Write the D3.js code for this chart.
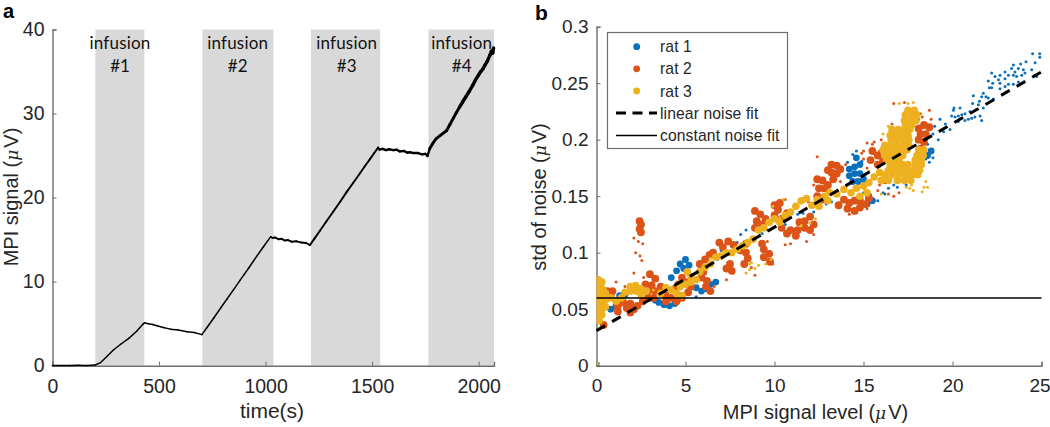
<!DOCTYPE html>
<html><head><meta charset="utf-8">
<script src="https://cdnjs.cloudflare.com/ajax/libs/d3/7.8.5/d3.min.js"></script>
<style>html,body{margin:0;padding:0;background:#fff}svg{display:block}text{font-family:"Liberation Sans",Arial,sans-serif;fill:#262626}</style>
</head><body><svg id="c" width="1050" height="427"></svg>
<script>
const xTicksA=[0,500,1000,1500,2000], yTicksA=[0,10,20,30,40];
const xTicksB=[0,5,10,15,20,25], yTicksB=[0,0.05,0.1,0.15,0.2,0.25,0.3];
const infusions=[[201,431,"#1"],[703,1037,"#2"],[1213,1538,"#3"],[1764,2072,"#4"]];
const signalTime=[0,40,80,120,160,201,225,255,287,320,358,395,425,432,450,470,490,520,553,590,631,665,701,725,756,790,818,850,880,920,958,990,1024,1032,1045,1060,1075,1090,1105,1122,1145,1169,1190,1208,1230,1255,1285,1318,1350,1380,1410,1443,1465,1489,1510,1528,1535,1550,1565,1580,1599,1615,1630,1650,1665,1677,1695,1715,1735,1750,1760,1770,1786,1800,1820,1849,1865,1880,1895,1911,1925,1940,1955,1973,1985,2000,2010,2020,2030,2040,2052,2060,2066,2070];
const signalValue=[0.02,0.03,0.01,0.04,0.02,0.08,0.36,1.1,1.9,2.55,3.25,4.1,4.95,5.1,5.0,4.9,4.75,4.55,4.35,4.25,4.05,3.95,3.7,4.55,5.65,6.9,7.9,9.05,10.15,11.6,13.0,14.15,15.35,15.2,15.25,15.05,15.1,14.9,14.95,14.75,14.8,14.65,14.6,14.35,15.15,16.05,17.15,18.35,19.5,20.65,21.7,22.9,23.7,24.55,25.3,25.95,25.7,25.8,25.65,25.75,25.65,25.7,25.5,25.55,25.35,25.4,25.3,25.3,25.15,25.2,24.95,25.8,26.5,27.0,27.4,27.95,28.7,29.4,30.1,30.8,31.4,32.0,32.6,33.4,34.0,34.6,35.0,35.3,35.8,36.2,36.9,37.4,37.2,37.8];
const rat1Core=[[14.2,.168],[14.5,.17],[14.8,.17],[14.2,.174],[14.5,.176],[14.8,.178],[14.6,.184],[14.4,.163],[14.7,.163],[15,.165],[15.2,.143],[15.5,.146],[15.3,.15],[.8,.05],[1.1,.053],[1.3,.062],[1.6,.063],[3.3,.058],[3.5,.056],[3.8,.054],[4.1,.053],[4.4,.055],[5,.094],[4.7,.09],[5.2,.089],[4.5,.084],[4.2,.078],[4.9,.086],[5.6,.069],[5.9,.066],[6.2,.068],[6.4,.072],[6.7,.074],[18.6,.186],[18.8,.19]];
const rat1Dots=[[24.5,.276],[24.9,.276],[24.9,.273],[24.64,.268],[24.13,.269],[23.83,.267],[23.42,.266],[23.32,.263],[24.45,.262],[23.98,.262],[23.7,.263],[23.51,.26],[22.95,.26],[22.67,.257],[22.39,.256],[22.2,.259],[22.01,.252],[22.26,.25],[22.07,.246],[22.2,.246],[22.58,.253],[22.67,.25],[22.95,.254],[23.14,.257],[23.42,.257],[23.6,.256],[23.89,.257],[24.07,.259],[24.64,.257],[24.73,.256],[22.67,.245],[22.95,.247],[23.14,.249],[23.42,.249],[23.7,.251],[21.73,.241],[21.64,.238],[21.88,.238],[22.01,.237],[22.3,.236],[21.17,.239],[21.51,.234],[21.45,.231],[21.13,.232],[21.73,.228],[21.55,.221],[21.64,.217],[20.08,.228],[20.05,.226],[20.42,.228],[20.7,.223],[20.52,.222],[20.33,.221],[20.14,.22],[19.95,.221],[20.98,.225],[21.08,.219],[20.89,.218],[21.26,.22],[20.7,.217],[20.33,.216],[19.86,.209],[19.3,.218],[19.6,.214],[19,.212],[18.9,.205],[18.6,.196],[18.9,.184],[18.5,.183],[18.3,.178],[18.7,.18],[19.2,.2],[19.5,.207],[17.8,.175],[17.4,.16],[16.9,.158],[16.2,.152],[15.8,.146],[14.4,.187],[14.1,.18],[14.9,.181],[14.6,.19],[.1,.002],[5.6,.061],[11.3,.134],[9.3,.117],[7,.102],[13.8,.146],[15,.153],[16.5,.165],[16.1,.153],[16.4,.157],[16.7,.16],[17,.163],[17.3,.162],[17.3,.168],[6.8,.094],[7.9,.109],[8.4,.12],[9.2,.124],[10.2,.13],[10.6,.125],[11.1,.12],[11.6,.135],[12.2,.136],[12.9,.143],[13.2,.145],[8.1,.116],[9.6,.12]];
const rat2Core=[[2.42,.128],[2.5,.125],[2.42,.121],[2.5,.118],[.6,.066],[.9,.066],[.8,.062],[.4,.036],[1.2,.053],[1.5,.056],[1.2,.048],[1.7,.051],[1.9,.047],[2.1,.05],[2.3,.053],[1.9,.055],[2.6,.057],[2.9,.06],[3.2,.06],[2.9,.066],[3.1,.071],[2.75,.072],[3.3,.077],[3,.081],[2.6,.067],[3.3,.066],[3.6,.07],[3.9,.057],[4.2,.06],[4.5,.057],[4.8,.06],[3.9,.062],[4.4,.068],[4.6,.072],[4.8,.078],[5,.074],[5.3,.07],[5.15,.065],[5.9,.078],[6.2,.075],[6.15,.07],[6.4,.066],[6,.083],[5.8,.09],[6.1,.094],[6.35,.098],[6.55,.1],[6.9,.109],[7.1,.105],[7.4,.11],[7.7,.107],[7.5,.09],[7.3,.086],[7.6,.084],[8.1,.102],[8.4,.108],[8.4,.1],[8.5,.095],[8.3,.09],[9.4,.103],[9.7,.099],[9.4,.096],[9.75,.092],[9.3,.108],[8.9,.137],[9.2,.134],[9,.128],[9.3,.125],[8.9,.122],[9.5,.13],[10,.142],[10.3,.144],[10.2,.138],[10,.133],[10.4,.13],[10.7,.135],[10.9,.12],[11.2,.115],[10.7,.117],[10.4,.122],[11.3,.12],[11.7,.128],[12,.132],[11.7,.122],[12,.12],[12.2,.125],[11.4,.127],[12.4,.165],[12.7,.164],[12.5,.157],[12.8,.157],[12.4,.15],[12.7,.147],[13,.16],[13.2,.178],[13.5,.177],[13.2,.171],[13.5,.17],[13.3,.165],[13.7,.174],[13,.173],[13.6,.142],[13.9,.147],[14.2,.144],[14.5,.146],[14.1,.139],[14.5,.137],[14.8,.14],[15.1,.143],[15.3,.148],[14.8,.146],[15.5,.19],[15.8,.186],[15.4,.182],[15.8,.178],[16.1,.182],[18.1,.21],[18.4,.213],[18.7,.211],[18.2,.205],[18.5,.205],[18.1,.2],[18.4,.198],[18.2,.192]];
const rat2Dots=[[2.1,.113],[2.35,.11],[2.6,.108],[2.2,.1],[2.44,.097],[2.55,.093],[2.1,.082],[2.65,.078],[2.65,.073],[1.1,.074],[1.6,.07],[8.9,.08],[8.7,.087],[9.9,.09],[9.6,.11],[8.7,.113],[10.6,.147],[10.9,.108],[7.3,.076],[7.7,.082],[6.6,.07],[14.2,.134],[13.6,.142],[15.2,.139],[12.2,.16],[11.9,.145],[12.4,.185],[13.7,.163],[14,.178],[15.5,.196],[15.9,.19],[16.2,.196],[16,.2],[16.7,.232],[17.3,.233],[16.6,.214],[16.5,.2],[18.2,.223],[18.7,.226],[18.8,.218],[17.9,.22],[18.6,.213],[16,.18],[16.3,.172],[15,.19],[15.2,.197],[16.9,.168],[15.8,.155],[12.2,.116],[11.8,.11],[10.6,.107],[16.2,.162],[16,.172],[15.2,.175],[15,.183],[14.9,.188],[15.6,.198],[15.9,.16],[15.1,.155],[16.4,.152],[16.7,.15],[17,.153],[17.9,.215],[18.1,.218],[18.3,.22]];
const rat3Core=[[17.5,.226],[17.85,.226],[17.35,.222],[17.7,.222],[18,.222],[17.3,.217],[17.65,.217],[17.95,.217],[17.35,.213],[17.7,.213],[16.6,.209],[16.95,.209],[17.3,.209],[17.6,.209],[16.5,.204],[16.85,.204],[17.2,.204],[17.5,.204],[16.55,.2],[16.9,.2],[17.25,.2],[17.55,.2],[16.2,.195],[16.55,.195],[16.9,.195],[17.25,.195],[17.55,.195],[16.1,.191],[16.45,.191],[16.8,.191],[17.1,.191],[17.45,.191],[18.1,.191],[18.4,.191],[16.2,.186],[16.55,.186],[16.9,.186],[17.2,.186],[18,.186],[18.35,.186],[16.3,.182],[16.65,.182],[17,.182],[17.9,.182],[18.25,.182],[16.5,.178],[16.85,.178],[17.2,.178],[17.5,.178],[17.9,.178],[18.25,.178],[16.4,.173],[16.75,.173],[17.1,.173],[17.45,.173],[17.8,.173],[18.15,.173],[16.2,.169],[16.6,.169],[17,.169],[17.4,.169],[17.75,.169],[18.05,.169],[16,.164],[16.4,.164],[16.9,.164],[17.3,.164],[17.65,.164],[.1,.076],[.3,.074],[.1,.07],[.3,.068],[.1,.064],[.3,.062],[.5,.064],[.1,.058],[.3,.056],[.5,.058],[.1,.052],[.3,.05],[.5,.052],[.1,.046],[.3,.045],[.15,.04],[.8,.06],[1.1,.057],[1.4,.06],[1.6,.065],[1.9,.066],[2.2,.066],[2.2,.071],[1.9,.07],[2.5,.068],[2.8,.066],[2.5,.063],[3.9,.069],[4.2,.067],[4.5,.064],[4.8,.062],[3.6,.064],[5,.072],[5.3,.074],[5.3,.079],[5.1,.083],[5.6,.076],[4.7,.07],[5.8,.083],[6.1,.087],[6.4,.09],[6.7,.096],[7,.097],[7.3,.1],[7.6,.1],[7.9,.103],[8.2,.106],[8.5,.109],[8.8,.112],[9.1,.12],[9.4,.122],[9.7,.127],[10,.13],[10.3,.127],[10.6,.133],[10.9,.136],[11.2,.141],[11.5,.146],[11.8,.148],[12.1,.142],[12.4,.147],[12.8,.15],[13.1,.153],[13.5,.152],[13.9,.156],[14.3,.153],[14.6,.157],[15,.159],[15.3,.162],[15.6,.167],[15.9,.171],[15.2,.153],[14.8,.15],[13,.146],[12.5,.141]];
const rat3Dots=[[.05,.002],[8.4,.082],[8.6,.085],[8.9,.086],[9.1,.089],[8.7,.091],[9.5,.09],[9.8,.094],[8.6,.09],[11.5,.124],[12,.126],[12.3,.13],[18.3,.154],[18.6,.158],[17.8,.155],[17.6,.157],[18.5,.163],[18.4,.158],[16.1,.205],[16.4,.212],[17,.232],[17.5,.232],[17.8,.233],[10.5,.147],[9.9,.141],[10.3,.131],[6.4,.095],[.5,.068],[3.2,.067],[15.3,.172],[16,.152],[17.4,.158],[17.7,.16]];
const lineFit=[[0,.031],[25,.26]], constFit=[[0,.06],[25,.06]];
const legendLabels=["rat 1","rat 2","rat 3","linear noise fit","constant noise fit"];
const colors=["#0a6fbd","#dc5318","#edb120"];

const svg=d3.select("#c");
const AX="#6e6e6e";
const xA=d3.scaleLinear().domain([0,2072]).range([52.5,494]);
const yA=d3.scaleLinear().domain([0,40]).range([365.7,29.5]);
const xB=d3.scaleLinear().domain([0,25]).range([596.5,1041.5]);
const yB=d3.scaleLinear().domain([0,.3]).range([365.7,26.7]);
svg.append("defs").append("clipPath").attr("id","plotB").append("rect")
  .attr("x",xB(0)).attr("y",yB(.3)).attr("width",xB(25)-xB(0)+4).attr("height",yB(0)-yB(.3));

function axes(x,y,xt,yt,fx,fy,sz){
  const gx=svg.append("g").attr("transform",`translate(0,${y.range()[0]})`)
    .call(d3.axisBottom(x).tickValues(xt).tickSize(-4).tickPadding(10).tickFormat(fx));
  const gy=svg.append("g").attr("transform",`translate(${x.range()[0]},0)`)
    .call(d3.axisLeft(y).tickValues(yt).tickSize(-4).tickPadding(8).tickFormat(fy));
  [gx,gy].forEach(g=>{
    g.selectAll("path").attr("stroke",AX).attr("stroke-width",1.4);
    g.selectAll("line").attr("stroke",AX).attr("stroke-width",1);
    g.selectAll("text").attr("font-size",sz).attr("font-family","Liberation Sans").attr("fill","#262626");
  });
  gx.selectAll("text").attr("dy","0.71em").attr("y",13);
  return gx;
}
function muLabel(t,pre){
  t.append("tspan").text(pre+"(");
  t.append("tspan").attr("font-style","italic").attr("font-family","DejaVu Serif").attr("font-size","0.85em").text("\u03bc");
  t.append("tspan").attr("dx",2).text("V)");
}

/* panel a */
svg.append("g").selectAll("rect").data(infusions).join("rect")
  .attr("x",d=>xA(d[0])).attr("width",d=>xA(d[1])-xA(d[0]))
  .attr("y",yA(40)).attr("height",yA(0)-yA(40)).attr("fill","#d9d9d9");
axes(xA,yA,xTicksA,yTicksA,d3.format("d"),d3.format("d"),19.5);
const pts=signalTime.map((t,i)=>[t,signalValue[i]]);
const weight=t=>t<1025?1.5:t<1535?1.9:t<1765?2.4:t<1900?2.9:3.4;
const ln=d3.line().x(d=>xA(d[0])).y(d=>yA(d[1]));
svg.append("g").selectAll("path").data(d3.pairs(pts)).join("path")
  .attr("d",ln).attr("fill","none").attr("stroke","#000").attr("stroke-linecap","round")
  .attr("stroke-width",d=>weight(d[0][0]));
const inf=svg.append("g");
infusions.forEach((d,i)=>{
  const cx=[120,237.7,346.7,461.7][i], top=[49,48.5,48.5,48.5][i];
  inf.append("text").attr("x",cx).attr("y",top).attr("text-anchor","middle").style("font-family","Lato").style("fill","#111").attr("font-size",17).attr("letter-spacing",0.2).text("infusion");
  inf.append("text").attr("x",cx).attr("y",top+23).attr("text-anchor","middle").style("font-family","Lato").style("fill","#111").attr("font-size",17).text(d[2]);
});
svg.append("text").attr("x",272).attr("y",418).attr("text-anchor","middle").attr("font-size",21).text("time(s)");
const ya=svg.append("text").attr("transform","translate(18,197) rotate(-90)").attr("text-anchor","middle").attr("font-size",20);
muLabel(ya,"MPI signal ");
svg.append("text").attr("x",3).attr("y",18).style("font-family","Liberation Sans").attr("font-weight",700).attr("font-size",20).style("fill","#000").text("a");

/* panel b */
const gxB=axes(xB,yB,xTicksB,yTicksB,d3.format("d"),d=>d===0?"0":String(d),19);
gxB.selectAll("text").filter(d=>d===25).attr("dx",-2);
const sc=svg.append("g").attr("clip-path","url(#plotB)");
[[rat1Core,rat1Dots],[rat2Core,rat2Dots],[rat3Core,rat3Dots]].forEach((s,i)=>{
  sc.append("g").selectAll("circle").data(s[0]).join("circle")
    .attr("cx",d=>xB(d[0])).attr("cy",d=>yB(d[1])).attr("r",[3.4,3.9,3.8][i]).attr("fill",colors[i]);
  sc.append("g").selectAll("circle").data(s[1]).join("circle")
    .attr("cx",d=>xB(d[0])).attr("cy",d=>yB(d[1])).attr("r",1.5).attr("fill",colors[i]);
});
const lb=d3.line().x(d=>xB(d[0])).y(d=>yB(d[1]));
svg.append("path").attr("d",lb(constFit)).attr("stroke","#000").attr("stroke-width",1.5).attr("fill","none");
svg.append("path").attr("d",lb(lineFit)).attr("stroke","#000").attr("stroke-width",3).attr("stroke-dasharray","10 8").attr("fill","none");
const xl=svg.append("text").attr("x",815.5).attr("y",419).attr("text-anchor","middle").attr("font-size",20);
muLabel(xl,"MPI signal level ");
const yl=svg.append("text").attr("transform","translate(546,197) rotate(-90)").attr("text-anchor","middle").attr("font-size",20);
muLabel(yl,"std of noise ");
svg.append("text").attr("x",535).attr("y",19.5).style("font-family","Liberation Sans").attr("font-weight",700).attr("font-size",21).style("fill","#000").text("b");

/* legend */
const lg=svg.append("g");
lg.append("rect").attr("x",607.5).attr("y",32.5).attr("width",180).attr("height",116).attr("fill","#fff").attr("stroke","#6e6e6e").attr("stroke-width",1.2);
const ly=[46.7,68.8,91,113,135.5];
legendLabels.forEach((t,i)=>{
  lg.append("text").attr("x",660).attr("y",ly[i]+5.5).attr("font-size",15.7).attr("letter-spacing",0.1).text(t);
  if(i<3) lg.append("circle").attr("cx",636.7).attr("cy",ly[i]).attr("r",3.4).attr("fill",colors[i]);
});
lg.append("line").attr("x1",616).attr("x2",657).attr("y1",ly[3]).attr("y2",ly[3]).attr("stroke","#000").attr("stroke-width",3).attr("stroke-dasharray","10 6.5");
lg.append("line").attr("x1",616).attr("x2",657).attr("y1",ly[4]).attr("y2",ly[4]).attr("stroke","#000").attr("stroke-width",1.4);
</script></body></html>
